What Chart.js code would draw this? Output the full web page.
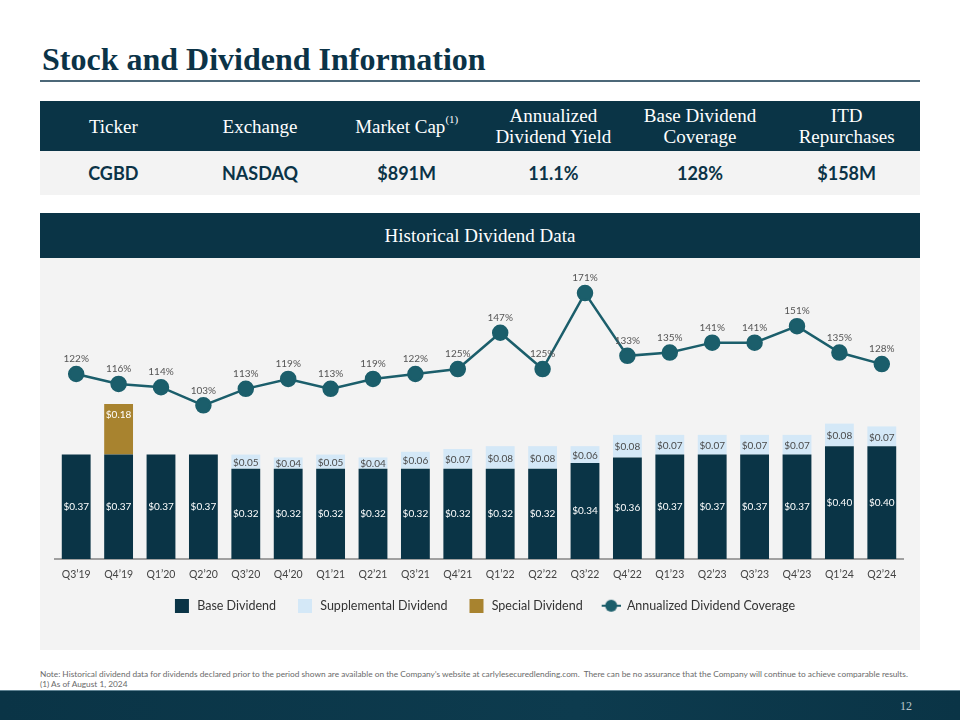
<!DOCTYPE html>
<html>
<head>
<meta charset="utf-8">
<script src="https://cdn.jsdelivr.net/npm/chart.js@4.4.1/dist/chart.umd.min.js"></script>
<style>
  body { margin: 0; width: 960px; height: 720px; background: #fff; position: relative; overflow: hidden; font-family: Lato, sans-serif; }
  .title { position: absolute; left: 42px; top: 43px; font: bold 32px/32px "Liberation Serif", serif; color: #0b3347; white-space: nowrap; }
  .rule { position: absolute; left: 40px; top: 80px; width: 880px; height: 2px; background: #4c6878; }
  .row { position: absolute; left: 40px; width: 880px; display: flex; }
  .row div { flex: 1; display: flex; align-items: center; justify-content: center; text-align: center; }
  .head { top: 101px; height: 50px; background: #0a3446; color: #fff; font: 19px/21px "Liberation Serif", serif; }
  .head sup { font-size: 11px; position: relative; top: -7px; line-height: 0; vertical-align: baseline; }
  .vals { top: 151px; height: 44px; background: #f3f3f3; color: #0b3347; font: bold 18px Lato, sans-serif; }
  .band { position: absolute; left: 40px; top: 213px; width: 880px; height: 45px; background: #0a3446; color: #fff; font: 19px/45px "Liberation Serif", serif; text-align: center; }
  .panel { position: absolute; left: 40px; top: 258px; width: 880px; height: 392px; background: #f3f3f3; }
  .note { position: absolute; left: 40px; top: 670px; font: 8.3px/9.5px Lato, sans-serif; color: #6a6a6a; white-space: nowrap; }
  .foot { position: absolute; left: 0; top: 690px; width: 960px; height: 30px; background: linear-gradient(90deg, #0a3446, #0d3b4e 60%, #0a3446); border-top: 1px solid #5f8393; }
  .page { position: absolute; right: 48px; top: 8px; font: 12px "Liberation Serif", serif; color: #b9c6cc; }
</style>
</head>
<body>
<div class="title">Stock and Dividend Information</div>
<div class="rule"></div>
<div class="row head">
  <div>Ticker</div>
  <div>Exchange</div>
  <div>Market Cap<sup>(1)</sup></div>
  <div>Annualized<br>Dividend Yield</div>
  <div>Base Dividend<br>Coverage</div>
  <div>ITD<br>Repurchases</div>
</div>
<div class="row vals">
  <div>CGBD</div>
  <div>NASDAQ</div>
  <div>$891M</div>
  <div>11.1%</div>
  <div>128%</div>
  <div>$158M</div>
</div>
<div class="band">Historical Dividend Data</div>
<div class="panel"><canvas id="myChart" width="880" height="392"></canvas></div>
<div class="note">Note: Historical dividend data for dividends declared prior to the period shown are available on the Company’s website at carlylesecuredlending.com.&nbsp; There can be no assurance that the Company will continue to achieve comparable results.<br>(1) As of August 1, 2024</div>
<div class="foot"><div class="page">12</div></div>

<script>
const quarters = ['Q3’19', 'Q4’19', 'Q1’20', 'Q2’20', 'Q3’20', 'Q4’20', 'Q1’21', 'Q2’21', 'Q3’21', 'Q4’21',
    'Q1’22', 'Q2’22', 'Q3’22', 'Q4’22', 'Q1’23', 'Q2’23', 'Q3’23', 'Q4’23', 'Q1’24', 'Q2’24'];
const baseDividend = [0.37, 0.37, 0.37, 0.37, 0.32, 0.32, 0.32, 0.32, 0.32, 0.32,
    0.32, 0.32, 0.34, 0.36, 0.37, 0.37, 0.37, 0.37, 0.40, 0.40];
const supplementalDividend = [0, 0, 0, 0, 0.05, 0.04, 0.05, 0.04, 0.06, 0.07,
    0.08, 0.08, 0.06, 0.08, 0.07, 0.07, 0.07, 0.07, 0.08, 0.07];
const specialDividend = [0, 0.18, 0, 0, 0, 0, 0, 0, 0, 0,
    0, 0, 0, 0, 0, 0, 0, 0, 0, 0];
const coverage = [122, 116, 114, 103, 113, 119, 113, 119, 122, 125,
    147, 125, 171, 133, 135, 141, 141, 151, 135, 128];

const navy = '#0a3446';
const lightBlue = '#d4e8f7';
const gold = '#a8832f';
const teal = '#1b5e6b';

// legend icons: 28px wide so the empty left part acts as the gap between items
function legendIcon(kind, color) {
    const c = document.createElement('canvas');
    c.width = 28;
    c.height = 14;
    const g = c.getContext('2d');
    if (kind === 'box') {
        g.fillStyle = color;
        g.fillRect(12, 0, 14, 14);
    } else {
        g.strokeStyle = color;
        g.lineWidth = 2;
        g.beginPath();
        g.moveTo(9, 7);
        g.lineTo(28, 7);
        g.stroke();
        g.fillStyle = color;
        g.beginPath();
        g.arc(18.5, 7, 6, 0, Math.PI * 2);
        g.fill();
    }
    return c;
}

const legendItems = [
    { text: 'Base Dividend', icon: legendIcon('box', navy) },
    { text: 'Supplemental Dividend', icon: legendIcon('box', lightBlue) },
    { text: 'Special Dividend', icon: legendIcon('box', gold) },
    { text: 'Annualized Dividend Coverage', icon: legendIcon('line', teal) }
];

const valueLabels = {
    id: 'valueLabels',
    afterDatasetsDraw(chart) {
        const ctx = chart.ctx;
        ctx.save();
        ctx.textAlign = 'center';
        ctx.textBaseline = 'middle';
        ctx.font = '10px Lato';
        chart.data.datasets.forEach((ds, i) => {
            const meta = chart.getDatasetMeta(i);
            meta.data.forEach((el, j) => {
                const v = ds.data[j];
                if (!v) return;
                const txt = ds.type === 'line' ? v + '%' : '$' + v.toFixed(2);
                if (ds.label === 'Base Dividend') {
                    ctx.fillStyle = '#ffffff';
                    ctx.fillText(txt, el.x, (el.y + el.base) / 2);
                } else if (ds.label === 'Supplemental Dividend') {
                    ctx.fillStyle = '#4a4a4a';
                    ctx.fillText(txt, el.x, (el.y + el.base) / 2 + 1);
                } else if (ds.label === 'Special Dividend') {
                    ctx.fillStyle = '#ffffff';
                    ctx.fillText(txt, el.x, el.y + 11);
                } else {
                    ctx.fillStyle = '#555555';
                    ctx.fillText(txt, el.x, el.y - 15);
                }
            });
        });
        ctx.restore();
    }
};

const ctx = document.getElementById('myChart');

new Chart(ctx, {
    data: {
        labels: quarters,
        datasets: [
            {
                type: 'line',
                label: 'Annualized Dividend Coverage',
                data: coverage,
                yAxisID: 'y2',
                borderColor: teal,
                backgroundColor: teal,
                borderWidth: 2.5,
                pointRadius: 7,
                pointHoverRadius: 7,
                tension: 0,
                order: 0
            },
            {
                type: 'bar',
                label: 'Base Dividend',
                data: baseDividend,
                backgroundColor: navy,
                stack: 'div',
                barPercentage: 0.68,
                categoryPercentage: 1,
                order: 1
            },
            {
                type: 'bar',
                label: 'Supplemental Dividend',
                data: supplementalDividend,
                backgroundColor: lightBlue,
                stack: 'div',
                barPercentage: 0.68,
                categoryPercentage: 1,
                order: 1
            },
            {
                type: 'bar',
                label: 'Special Dividend',
                data: specialDividend,
                backgroundColor: gold,
                stack: 'div',
                barPercentage: 0.68,
                categoryPercentage: 1,
                order: 1
            }
        ]
    },
    options: {
        responsive: false,
        animation: false,
        layout: {
            padding: { left: 15, right: 17, top: 12, bottom: 28 }
        },
        plugins: {
            tooltip: { enabled: false },
            legend: {
                position: 'bottom',
                labels: {
                    usePointStyle: true,
                    pointStyleWidth: 28,
                    padding: 10,
                    color: '#333333',
                    font: { family: 'Lato', size: 12.5 },
                    generateLabels: () => legendItems.map((it, k) => ({
                        text: it.text,
                        pointStyle: it.icon,
                        fontColor: '#333333',
                        lineWidth: 0,
                        strokeStyle: 'transparent',
                        fillStyle: 'transparent',
                        datasetIndex: k
                    }))
                }
            }
        },
        scales: {
            x: {
                stacked: true,
                grid: { display: false, drawTicks: false },
                border: { display: true, color: '#a0a0a0', width: 2 },
                ticks: { color: '#444444', padding: 9, font: { family: 'Lato', size: 10.5 } }
            },
            y: {
                stacked: true,
                display: false,
                min: 0,
                max: 1.025
            },
            y2: {
                display: false,
                min: 10,
                max: 185
            }
        }
    },
    plugins: [valueLabels]
});
</script>
</body>
</html>
